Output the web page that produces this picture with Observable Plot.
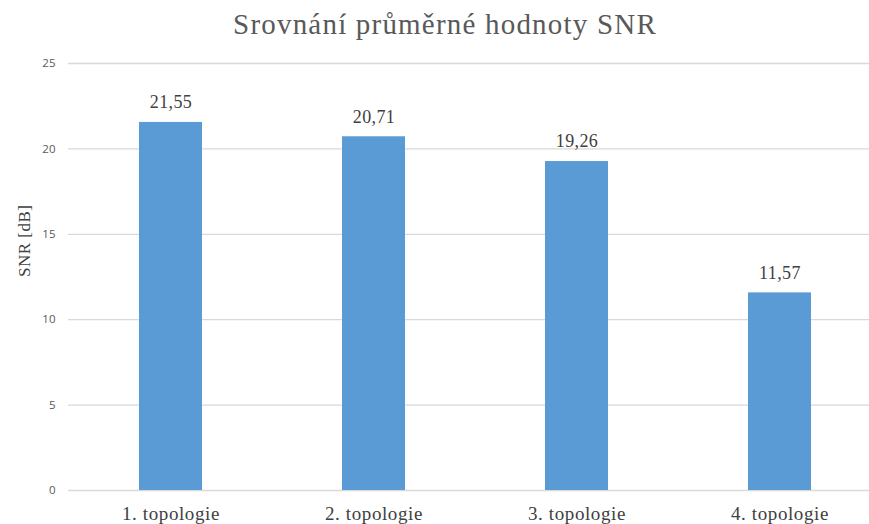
<!DOCTYPE html>
<html>
<head>
<meta charset="utf-8">
<script src="https://cdn.jsdelivr.net/npm/d3@7"></script>
<script src="https://cdn.jsdelivr.net/npm/@observablehq/plot@0.6"></script>
<style>
  body { margin: 0; background: #fff; }
</style>
</head>
<body>
<div id="chart"></div>
<script>
const title = "Srovnání průměrné hodnoty SNR";
const yLabel = "SNR [dB]";
const categories = ["1. topologie", "2. topologie", "3. topologie", "4. topologie"];
const values = [21.55, 20.71, 19.26, 11.57];
const yTicks = [0, 5, 10, 15, 20, 25];

const data = categories.map((c, i) => ({ cat: c, value: values[i] }));
const fmt = v => v.toFixed(2).replace(".", ",");
const serif = "'Liberation Serif', 'DejaVu Serif', serif";

const chart = Plot.plot({
  width: 869,
  height: 524,
  marginTop: 63,
  marginBottom: 34,
  marginLeft: 68,
  marginRight: 0,
  style: { background: "#fff", color: "#595959" },
  x: { domain: categories, range: [68, 882], paddingInner: 0.69, paddingOuter: 0.345, label: null },
  y: { domain: [0, 25], ticks: yTicks, label: null },
  marks: [
    Plot.ruleY(yTicks, { stroke: "#d9d9d9", strokeWidth: 1.3 }),
    Plot.barY(data, { x: "cat", y: "value", fill: "#5b9bd5" }),
    Plot.text(data, {
      x: "cat", y: "value", text: d => fmt(d.value), dy: -20,
      fontFamily: serif, fontSize: 18, fill: "#404040"
    }),
    Plot.axisY(yTicks, {
      tickSize: 0, tickPadding: 13, fontSize: 11.5, fill: "#595959",
      fontFamily: "'Open Sans', 'DejaVu Sans', sans-serif", label: null
    }),
    Plot.axisX({
      tickSize: 0, tickPadding: 16, fontSize: 19, fill: "#404040",
      fontFamily: serif, label: null
    }),
    Plot.text([yLabel], {
      frameAnchor: "left", dx: -44, rotate: -90,
      fontFamily: serif, fontSize: 17, fill: "#404040"
    }),
    Plot.text([title], {
      frameAnchor: "top", dx: -24, dy: -50, fontFamily: serif, fontSize: 29, fill: "#595959"
    })
  ]
});
chart.querySelectorAll("[aria-label='x-axis tick label'] text").forEach(t => t.style.letterSpacing = "0.6px");
chart.querySelectorAll("text").forEach(t => {
  if (t.textContent === title) t.style.letterSpacing = "1.2px";
  if (t.textContent === yLabel) t.style.letterSpacing = "0.5px";
  if (/^\d+,\d\d$/.test(t.textContent)) t.style.letterSpacing = "0.4px";
});
document.getElementById("chart").append(chart);
</script>
</body>
</html>
